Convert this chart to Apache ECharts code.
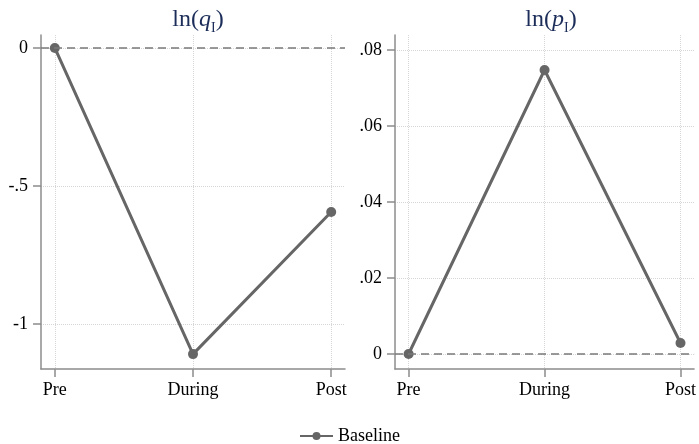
<!DOCTYPE html>
<html>
<head>
<meta charset="utf-8">
<script src="https://cdn.jsdelivr.net/npm/echarts@6/dist/echarts.min.js"></script>
<style>
  html, body { margin: 0; padding: 0; background: #fff; }
  #chart { width: 699px; height: 444px; }
</style>
</head>
<body>
<div id="chart"></div>
<script>
  // periods on the x axis
  const periods = ['Pre', 'During', 'Post'];
  // baseline estimates
  const qValues = [0, -1.109, -0.594];
  const pValues = [0, 0.0747, 0.0029];
  // tick positions
  const qTicks = [-1, -0.5, 0];
  const pTicks = [0, 0.02, 0.04, 0.06, 0.08];

  const serif = 'Liberation Serif';
  const lineColor = '#666666';
  const axisColor = '#8c8c8c';

  function fmtNum(v) {
    if (v === 0) return '0';
    let s = String(+v.toFixed(3));
    return s.replace('0.', '.');
  }

  function xAxis(gridIndex) {
    return {
      type: 'value',
      gridIndex: gridIndex,
      min: -0.1,
      max: 2.1,
      axisLine: { show: true, onZero: false, lineStyle: { color: axisColor, width: 1.5 } },
      axisTick: { show: true, customValues: [0, 1, 2], length: 8, lineStyle: { color: axisColor, width: 1.5 } },
      axisLabel: {
        customValues: [0, 1, 2],
        formatter: function (v) { return periods[Math.round(v)]; },
        fontFamily: serif, fontSize: 18, color: '#000', margin: 12
      },
      splitLine: { show: true, lineStyle: { type: 'dotted', color: '#d6d6d6', width: 1 } }
    };
  }

  function yAxis(gridIndex, min, max, ticks) {
    return {
      type: 'value',
      gridIndex: gridIndex,
      min: min,
      max: max,
      axisLine: { show: true, onZero: false, lineStyle: { color: axisColor, width: 1.5 } },
      axisTick: { show: true, customValues: ticks, length: 8, lineStyle: { color: axisColor, width: 1.5 } },
      axisLabel: {
        customValues: ticks,
        formatter: fmtNum,
        fontFamily: serif, fontSize: 18, color: '#000', margin: 13
      },
      splitLine: { show: true, lineStyle: { type: 'dotted', color: '#d6d6d6', width: 1 } }
    };
  }

  function titleText(letter) {
    return '{n|ln(}{i|' + letter + '}{s|I}{n|)}';
  }
  const navy = '#1c2d59';
  const titleRich = {
    n: { fontFamily: serif, fontSize: 24, fontWeight: 'normal', color: navy, lineHeight: 30 },
    i: { fontFamily: serif, fontSize: 24, fontWeight: 'normal', fontStyle: 'italic', color: navy, lineHeight: 30 },
    s: { fontFamily: serif, fontSize: 14, fontWeight: 'normal', color: navy, lineHeight: 30, verticalAlign: 'bottom', padding: [16, 0, 0, 0] }
  };

  function series(idx, vals) {
    return {
      name: 'Baseline',
      type: 'line',
      xAxisIndex: idx,
      yAxisIndex: idx,
      data: vals.map(function (v, i) { return [i, v]; }),
      symbol: 'circle',
      symbolSize: 10,
      lineStyle: { color: lineColor, width: 3 },
      itemStyle: { color: lineColor },
      z: 3,
      markLine: {
        silent: true,
        symbol: 'none',
        label: { show: false },
        lineStyle: { type: [8, 5], color: '#7a7a7a', width: 1.5 },
        data: [{ yAxis: 0 }],
        animation: false
      }
    };
  }

  const chart = echarts.init(document.getElementById('chart'));
  chart.setOption({
    animation: false,
    backgroundColor: '#fff',
    title: [
      { text: titleText('q'), left: 193, top: 0, textAlign: 'center', textStyle: { fontWeight: 'normal', rich: titleRich } },
      { text: titleText('p'), left: 546, top: 0, textAlign: 'center', textStyle: { fontWeight: 'normal', rich: titleRich } }
    ],
    grid: [
      { left: 41, top: 35, width: 304, height: 334 },
      { left: 395, top: 35, width: 301, height: 334 }
    ],
    xAxis: [xAxis(0), xAxis(1)],
    yAxis: [
      yAxis(0, -1.163, 0.047, qTicks),
      yAxis(1, -0.00395, 0.0839, pTicks)
    ],
    legend: {
      data: ['Baseline'],
      bottom: -6,
      left: 'center',
      itemWidth: 33,
      itemHeight: 10,
      itemGap: 10,
      textStyle: { fontFamily: serif, fontSize: 18, color: '#000' }
    },
    series: [series(0, qValues), series(1, pValues)]
  });
</script>
</body>
</html>
